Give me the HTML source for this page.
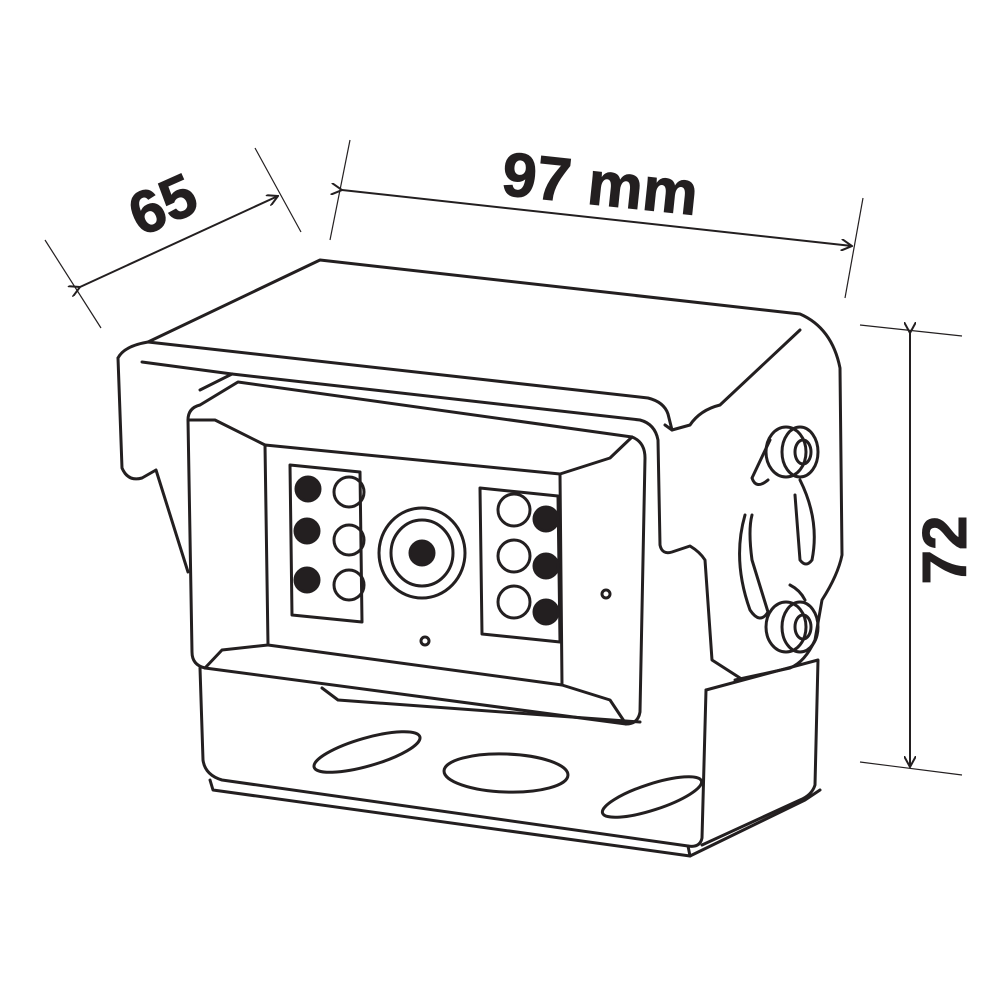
<!DOCTYPE html>
<html><head><meta charset="utf-8"><style>
html,body{margin:0;padding:0;background:#fff;}
svg{display:block;}
text{font-family:"Liberation Sans",sans-serif;font-weight:bold;fill:#231f20;}
</style></head><body>
<svg width="1000" height="1000" viewBox="0 0 1000 1000" xmlns="http://www.w3.org/2000/svg">
<defs>
<marker id="ar" markerWidth="12" markerHeight="12" refX="11" refY="6" orient="auto" markerUnits="userSpaceOnUse">
<path d="M0,0 L11,6 L0,12" fill="none" stroke="#231f20" stroke-width="2"/>
</marker>
</defs>
<g stroke="#231f20" stroke-width="2" fill="none">
<line x1="45" y1="240" x2="101" y2="328" stroke-width="1.2"/>
<line x1="255" y1="148" x2="301" y2="232" stroke-width="1.2"/>
<line x1="80" y1="287" x2="278" y2="196" marker-start="url(#ar)" marker-end="url(#ar)"/>
<line x1="350" y1="140" x2="330" y2="240" stroke-width="1.2"/>
<line x1="863" y1="198" x2="845" y2="298" stroke-width="1.2"/>
<line x1="342" y1="190" x2="852" y2="246" marker-start="url(#ar)" marker-end="url(#ar)"/>
<line x1="860" y1="325" x2="962" y2="336" stroke-width="1.2"/>
<line x1="860" y1="762" x2="962" y2="775" stroke-width="1.2"/>
<line x1="910" y1="333" x2="910" y2="767" marker-start="url(#ar)" marker-end="url(#ar)"/>
</g>
<text x="163" y="225" font-size="60" text-anchor="middle" transform="rotate(-24 163 205)" stroke="#231f20" stroke-width="1">65</text>
<text x="600" y="205" font-size="62" text-anchor="middle" transform="rotate(6 600 185)" stroke="#231f20" stroke-width="1">97 mm</text>
<text x="945" y="571" font-size="62" text-anchor="middle" transform="rotate(-90 945 550)" stroke="#231f20" stroke-width="1">72</text>

<g stroke="#231f20" stroke-width="3" fill="none" stroke-linejoin="round" stroke-linecap="round">
<path d="M148,342 L320,260 L800,314 Q832,328 840,368 L842,555 Q838,575 822,600 L815,640 Q805,662 790,668 L735,680"/>
<path d="M118,358 Q124,346 148,342 L648,398 Q664,402 668,414 L672,430 L690,425 Q700,410 720,405 L800,330"/>
<path d="M118,358 L122,468 Q128,482 142,478 L156,470 L188,572"/>
<path d="M142,362 L232,374 L640,420 Q655,424 658,440 L660,545 Q662,555 672,552 L690,546 Q700,552 705,560 L712,660 L740,678"/>
<path d="M232,374 L200,390"/>
<path d="M665,425 L672,430"/>
<path d="M200,405 L238,382 L632,437 Q645,442 645,458 L640,712 Q638,724 626,724 L205,668 Q192,665 192,652 L188,420 Q188,408 200,405 Z"/>
<path d="M188,420 L215,420 L265,445"/>
<path d="M632,437 L610,458 L560,474"/>
<path d="M205,668 L222,650 L268,645"/>
<path d="M626,724 L610,700 L562,685"/>
<path d="M265,445 L560,474 L562,685 L268,645 Z"/>
<path d="M290,465 L360,472 L362,622 L292,615 Z"/>
<path d="M480,488 L558,496 L560,642 L482,634 Z"/>
<ellipse cx="422" cy="553" rx="43" ry="45"/>
<ellipse cx="422" cy="553" rx="31" ry="33"/>
<circle cx="422" cy="553" r="12" fill="#231f20"/>
<circle cx="425" cy="641" r="4"/>
<circle cx="606" cy="594" r="4"/>
<circle cx="308" cy="489" r="12" fill="#231f20"/>
<circle cx="307" cy="531" r="12" fill="#231f20"/>
<circle cx="307" cy="580" r="12" fill="#231f20"/>
<circle cx="349" cy="492" r="15"/>
<circle cx="349" cy="540" r="15"/>
<circle cx="349" cy="585" r="15"/>
<circle cx="514" cy="510" r="16"/>
<circle cx="514" cy="556" r="16"/>
<circle cx="514" cy="602" r="16"/>
<circle cx="546" cy="519" r="12" fill="#231f20"/>
<circle cx="546" cy="566" r="12" fill="#231f20"/>
<circle cx="546" cy="612" r="12" fill="#231f20"/>
<path d="M200,668 L203,760 Q205,775 222,780 L688,846 Q700,848 702,838 L706,690"/>
<path d="M322,688 L338,700 L640,722"/>
<path d="M706,690 L818,660 L815,785 Q812,795 800,800 L702,845"/>
<path d="M688,846 L690,856 L805,800 L820,790"/>
<path d="M210,780 L213,790 L690,856"/>
<ellipse cx="367" cy="752" rx="55" ry="14" transform="rotate(-16 367 752)"/>
<ellipse cx="506" cy="773" rx="62" ry="19" transform="rotate(2 506 773)"/>
<ellipse cx="652" cy="797" rx="52" ry="13" transform="rotate(-18 652 797)"/>
<ellipse cx="786" cy="452" rx="20" ry="25"/>
<ellipse cx="800" cy="452" rx="18" ry="25"/>
<ellipse cx="803" cy="452" rx="8" ry="12"/>
<path d="M770,440 L752,478 Q756,490 768,480"/>
<path d="M800,480 Q820,520 812,560 Q806,568 800,560 L795,495"/>
<ellipse cx="786" cy="627" rx="20" ry="25"/>
<ellipse cx="800" cy="627" rx="18" ry="25"/>
<ellipse cx="803" cy="627" rx="8" ry="12"/>
<path d="M745,515 Q732,560 750,610 Q760,625 768,612 L752,560 Q748,530 752,515"/>
<path d="M790,585 Q800,590 805,600"/>
</g>
</svg>
</body></html>
